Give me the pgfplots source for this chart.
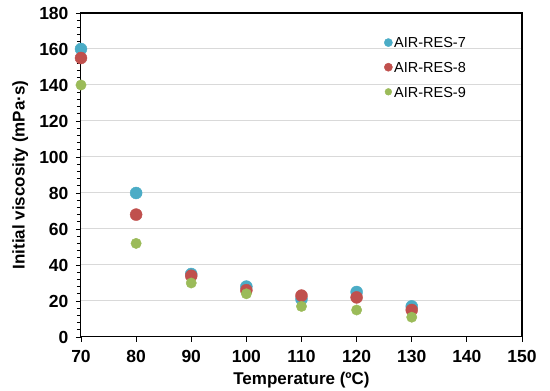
\documentclass[border=0pt]{standalone}
\usepackage{fontspec}
\setmainfont{Liberation Sans}
\usepackage{pgfplots}
\pgfplotsset{compat=1.18}
\definecolor{c7}{HTML}{4BACC6}
\definecolor{c8}{HTML}{C0504D}
\definecolor{c9}{HTML}{9BBB59}
\definecolor{gridc}{HTML}{D9D9D9}
\begin{document}
\begin{tikzpicture}
\path[use as bounding box] (-81pt,-54pt) rectangle (469pt,337pt);
\begin{axis}[
 at={(0pt,0pt)}, anchor=south west,
 scale only axis, width=441pt, height=324pt,
 xmin=70, xmax=150, ymin=0, ymax=180,
 xtick={70,80,...,150}, ytick={0,20,...,180},
 minor y tick num=4,
 tick pos=left, tick align=outside,
 major tick length=5pt, minor tick length=4pt,
 ymajorgrids, major grid style={gridc, line width=1pt},
 axis line style={black, line width=1pt},
 tick style={black, line width=0.8pt},
 clip=false,
 /pgf/number format/assume math mode=true,
 ticklabel style={font=\fontsize{17.5}{20}\selectfont\bfseries},
 yticklabel style={xshift=-4pt},
 xticklabel style={yshift=-4.5pt},
 xlabel={Temperature (ºC)}, ylabel={Initial viscosity (mPa·s)},
 label style={font=\fontsize{17}{20}\selectfont\bfseries},
 xlabel style={at={(axis description cs:0.5,-0.133)}, anchor=center},
 ylabel style={at={(axis description cs:-0.138,0.5)}, anchor=center},
 legend style={at={(rel axis cs:0.68,0.935)}, anchor=north west, draw=none, fill=none,
   font=\fontsize{14.5}{17}\selectfont, row sep=10pt, nodes={inner sep=1.5pt}},
 legend cell align=left,
]
\addplot[only marks, mark=*, mark size=6pt, mark options={draw=c7, fill=c7}, c7,
  legend image code/.code={\fill[c7] (0.15cm,1pt) circle (4.1pt);}]
  coordinates {(70,160)(80,80)(90,35)(100,28)(110,21)(120,25)(130,17)};
\addlegendentry{AIR-RES-7}
\addplot[only marks, mark=*, mark size=6pt, mark options={draw=c8, fill=c8}, c8,
  legend image code/.code={\fill[c8] (0.15cm,1pt) circle (4.1pt);}]
  coordinates {(70,155)(80,68)(90,34)(100,26)(110,23)(120,22)(130,15)};
\addlegendentry{AIR-RES-8}
\addplot[only marks, mark=*, mark size=5.2pt, mark options={draw=c9, fill=c9}, c9,
  legend image code/.code={\fill[c9] (0.15cm,1pt) circle (3.4pt);}]
  coordinates {(70,140)(80,52)(90,30)(100,24)(110,17)(120,15)(130,11)};
\addlegendentry{AIR-RES-9}
\end{axis}
\draw[black, line width=1.2pt] (0pt,324pt) -- (441pt,324pt) -- (441pt,0pt);
\end{tikzpicture}
\end{document}
